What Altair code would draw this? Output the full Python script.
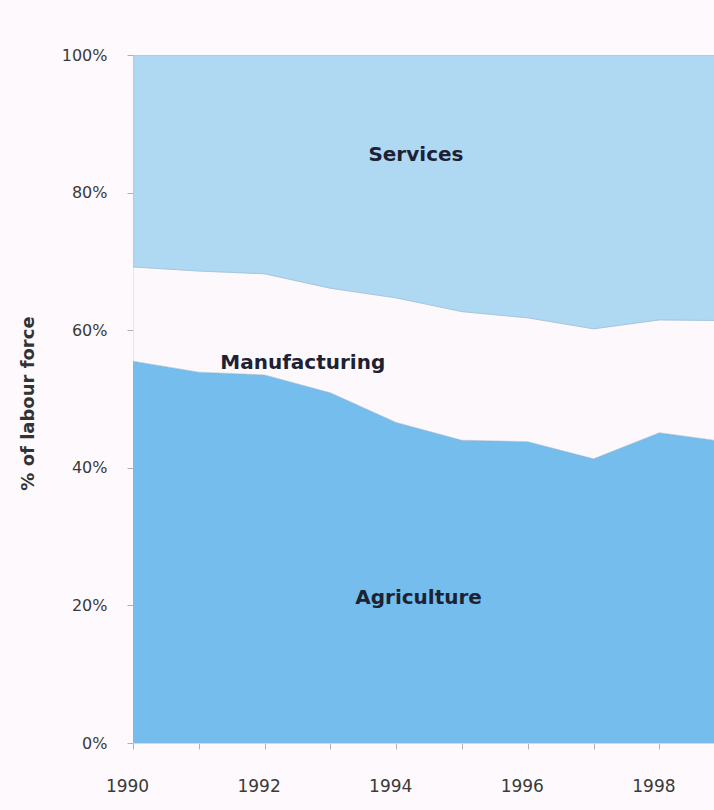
import altair as alt
import pandas as pd

years = [1990, 1991, 1992, 1993, 1994, 1995, 1996, 1997, 1998, 1999]
agriculture = [55.5, 53.9, 53.5, 50.9, 46.6, 44.0, 43.8, 41.3, 45.1, 43.8]
manufacturing = [13.7, 14.7, 14.7, 15.2, 18.1, 18.7, 18.0, 18.9, 16.4, 17.6]
services = [30.8, 31.4, 31.8, 33.9, 35.3, 37.3, 38.2, 39.8, 38.5, 38.6]

sectors = ["Agriculture", "Manufacturing", "Services"]
colors = ["#74bdec", "#fdf8fc", "#afd8f3"]

rows = []
for i, y in enumerate(years):
    for k, (name, vals) in enumerate(zip(sectors, [agriculture, manufacturing, services])):
        rows.append({"year": y, "sector": name, "value": vals[i], "ord": k})
df = pd.DataFrame(rows)

# annotation placement (data coordinates)
label_names = ["Services", "Manufacturing", "Agriculture"]
label_x = [1994.30, 1992.58, 1994.34]
label_y = [85.4, 55.2, 21.1]
labels = pd.DataFrame({"name": label_names, "x": label_x, "y": label_y})

x_scale = alt.Scale(domain=[1990, 1998.83], nice=False, zero=False)
y_scale = alt.Scale(domain=[0, 100], nice=False)

areas = alt.Chart(df).mark_area(clip=True, stroke="#8fb3cc", strokeWidth=0.8, strokeOpacity=0.6).encode(
    x=alt.X("year:Q", scale=x_scale,
            axis=alt.Axis(values=years[:-1], format="d",
                          labelExpr="datum.value % 2 == 0 ? datum.value : ''",
                          title=None, tickSize=6, tickColor="#b0b0b0",
                          domainColor="#d8d8d8", labelPadding=29, labelOffset=-6,
                          labelFlush=False,
                          labelFont="DejaVu Sans", labelFontSize=17, labelColor="#3a3a3a",
                          grid=False)),
    y=alt.Y("value:Q", stack="zero", scale=y_scale,
            axis=alt.Axis(values=[0, 20, 40, 60, 80, 100],
                          labelExpr="datum.value + '%'",
                          title="% of labour force", titleFont="DejaVu Sans",
                          titleFontSize=18, titleFontWeight="bold", titleColor="#333333",
                          titleX=-105, titleY=348, titleAngle=-90,
                          titleAlign="center", titleBaseline="middle",
                          tickSize=6, tickColor="#b0b0b0", domainColor="#d8d8d8",
                          labelPadding=20, labelFont="DejaVu Sans", labelFontSize=16,
                          labelColor="#3a3a3a", grid=False)),
    color=alt.Color("sector:N", scale=alt.Scale(domain=sectors, range=colors), legend=None),
    order=alt.Order("ord:Q"),
)

texts = alt.Chart(labels).mark_text(font="DejaVu Sans", fontSize=20, fontWeight="bold",
                                    color="#1c2233", align="center", baseline="middle").encode(
    x=alt.X("x:Q", scale=x_scale),
    y=alt.Y("y:Q", scale=y_scale),
    text="name:N",
)

chart = (areas + texts).properties(
    width=581, height=688,
    autosize=alt.AutoSizeParams(type="none"),
    padding={"left": 133, "top": 55, "right": 0, "bottom": 67},
    background="#fdf9fc",
).configure_view(stroke=None)

chart.save("out.html", embed_options={"renderer": "svg", "actions": False})
